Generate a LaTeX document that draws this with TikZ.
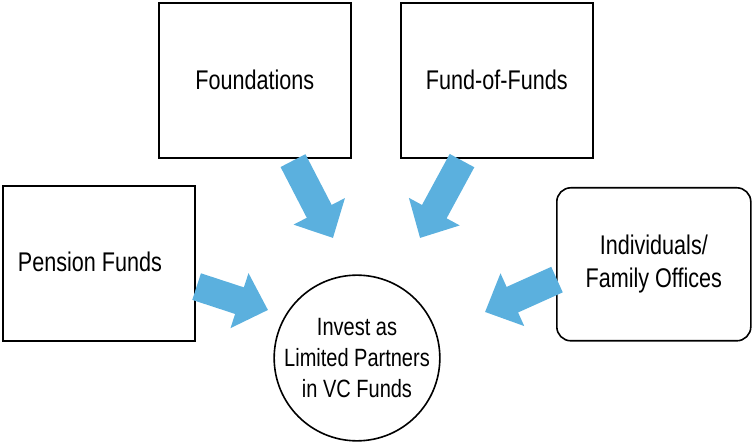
\documentclass[tikz,border=0pt]{standalone}
\usepackage{fontspec}
\setmainfont[FakeStretch=0.8]{Liberation Sans}
\usetikzlibrary{arrows.meta,calc}
\definecolor{arrblue}{HTML}{5BB0DE}
\tikzset{
  box/.style={draw, line width=1.6pt, inner sep=0pt, anchor=north west, font=\fontsize{27}{33}\selectfont, align=center},
  blk/.style={arrblue, line width=28pt, -{Triangle[length=30pt,width=56pt]}}
}
\begin{document}
\begin{tikzpicture}[x=1pt,y=-1pt]
\useasboundingbox (0,0) rectangle (752,443);
\node[box, minimum width=192pt, minimum height=155pt] (fo) at (158,2) {Foundations};
\node[box, minimum width=192pt, minimum height=155pt] (ff) at (400,2) {Fund-of-Funds};
\node[box, minimum width=192pt, minimum height=155pt] (pf) at (2,185) {};
\node[font=\fontsize{27}{33}\selectfont] at (90,262) {Pension Funds};
\node[box, rounded corners=14pt, minimum width=194pt, minimum height=153pt] (in) at (556,187) {Individuals/\\Family Offices};
\node[draw, circle, line width=1.6pt, minimum size=164pt, inner sep=0pt, align=center, font=\fontsize{25}{31}\selectfont] (c) at (357,358) {Invest as\\Limited Partners\\in VC Funds};
\coordinate (s1) at ($(pf.south east)+(1,-55)$);
\coordinate (s2) at ($(fo.south west)+(135,2)$);
\coordinate (s3) at ($(ff.south west)+(62,2)$);
\coordinate (s4) at ($(in.south west)+(1,-62)$);
\coordinate (t1) at (268,310);
\coordinate (t2) at (333,238);
\coordinate (t3) at (420,238);
\coordinate (t4) at (485,312);
\draw[blk] (s1) -- (t1);
\draw[blk] (s2) -- (t2);
\draw[blk] (s3) -- (t3);
\draw[blk] (s4) -- (t4);
\end{tikzpicture}
\end{document}
